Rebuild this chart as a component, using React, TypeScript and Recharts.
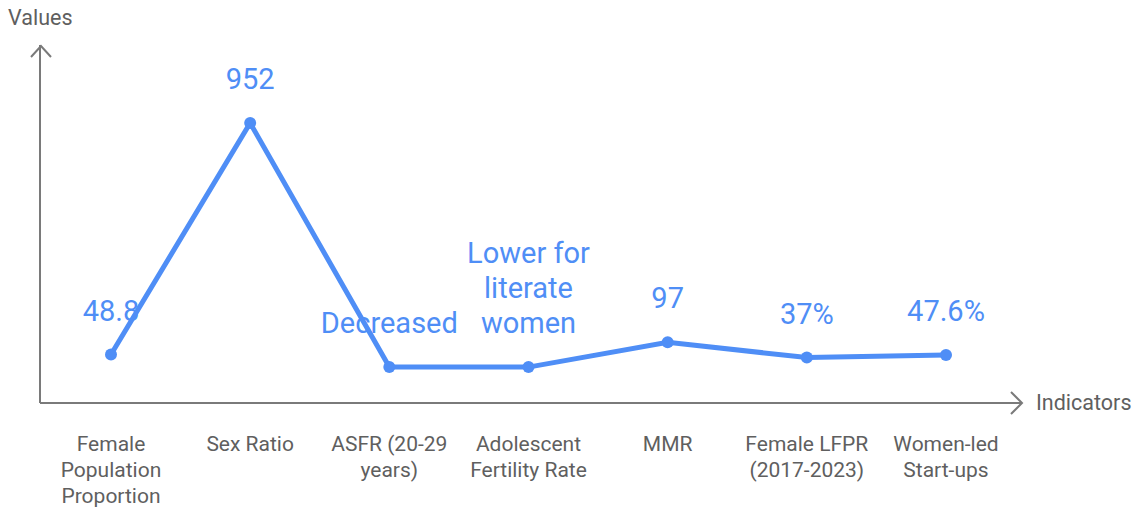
import { LineChart, Line, XAxis, YAxis, LabelList } from 'recharts';

const categories = [
  'Female Population Proportion',
  'Sex Ratio',
  'ASFR (20-29 years)',
  'Adolescent Fertility Rate',
  'MMR',
  'Female LFPR (2017-2023)',
  'Women-led Start-ups',
];

// how each tick label is broken into lines
const tickLines = [
  ['Female', 'Population', 'Proportion'],
  ['Sex Ratio'],
  ['ASFR (20-29', 'years)'],
  ['Adolescent', 'Fertility Rate'],
  ['MMR'],
  ['Female LFPR', '(2017-2023)'],
  ['Women-led', 'Start-ups'],
];

const values = [48.8, 952, 0, 0, 97, 37, 47.6];

const pointLabels = [
  ['48.8'],
  ['952'],
  ['Decreased'],
  ['Lower for', 'literate', 'women'],
  ['97'],
  ['37%'],
  ['47.6%'],
];

const data = categories.map((name, i) => ({ name, value: values[i] }));

const BLUE = '#4f8ef6';
const AXIS = '#7a7a7a';
const TEXT = '#5f5f5f';
const FONT = 'Roboto, sans-serif';

function CategoryTick(props: any) {
  const { x, y, index } = props;
  const lines = tickLines[index] ?? [props.payload?.value ?? ''];
  return (
    <text x={x} y={y} textAnchor="middle" fill={TEXT} fontSize={21} fontFamily={FONT}>
      {lines.map((l: string, i: number) => (
        <tspan key={i} x={x} dy={i === 0 ? 40 : 26}>
          {l}
        </tspan>
      ))}
    </text>
  );
}

function PointLabel(props: any) {
  const { x, y, index } = props;
  const lines = pointLabels[index] ?? [];
  const n = lines.length;
  return (
    <text textAnchor="middle" fill={BLUE} fontSize={29} fontFamily={FONT}>
      {lines.map((l: string, i: number) => (
        <tspan key={i} x={x} y={y - 34 - (n - 1 - i) * 35}>
          {l}
        </tspan>
      ))}
    </text>
  );
}

export default function App() {
  return (
    <div style={{ position: 'relative', width: 1138, height: 508, background: '#fff' }}>
      <style>{`body{margin:0}`}</style>
      <LineChart
        width={1138}
        height={508}
        data={data}
        margin={{ top: 45, right: 116, bottom: 5, left: 39 }}
      >
        <XAxis
          dataKey="name"
          height={100}
          padding={{ left: 71, right: 76 }}
          axisLine={{ stroke: AXIS, strokeWidth: 2 }}
          tickLine={false}
          interval={0}
          tick={<CategoryTick />}
        />
        <YAxis
          type="number"
          domain={[-140, 1256]}
          allowDataOverflow
          width={1}
          tick={false}
          tickLine={false}
          axisLine={{ stroke: AXIS, strokeWidth: 2 }}
        />
        <Line
          type="linear"
          dataKey="value"
          stroke={BLUE}
          strokeWidth={5}
          dot={{ r: 6, fill: BLUE, stroke: BLUE, strokeWidth: 0 }}
          activeDot={false}
          isAnimationActive={false}
        >
          <LabelList dataKey="value" content={<PointLabel />} />
        </Line>
      </LineChart>
      <svg
        width={1138}
        height={508}
        style={{ position: 'absolute', left: 0, top: 0, pointerEvents: 'none' }}
      >
        <polyline points="31,57 41,46 51,57" fill="none" stroke={AXIS} strokeWidth={2} />
        <line x1={1012} y1={403} x2={1022} y2={403} stroke={AXIS} strokeWidth={2} />
        <polyline points="1011,392 1022,403 1011,414" fill="none" stroke={AXIS} strokeWidth={2} />
        <text x={8} y={25} fill={TEXT} fontSize={21.5} fontFamily={FONT}>
          Values
        </text>
        <text x={1036} y={410} fill={TEXT} fontSize={21.5} fontFamily={FONT}>
          Indicators
        </text>
      </svg>
    </div>
  );
}
